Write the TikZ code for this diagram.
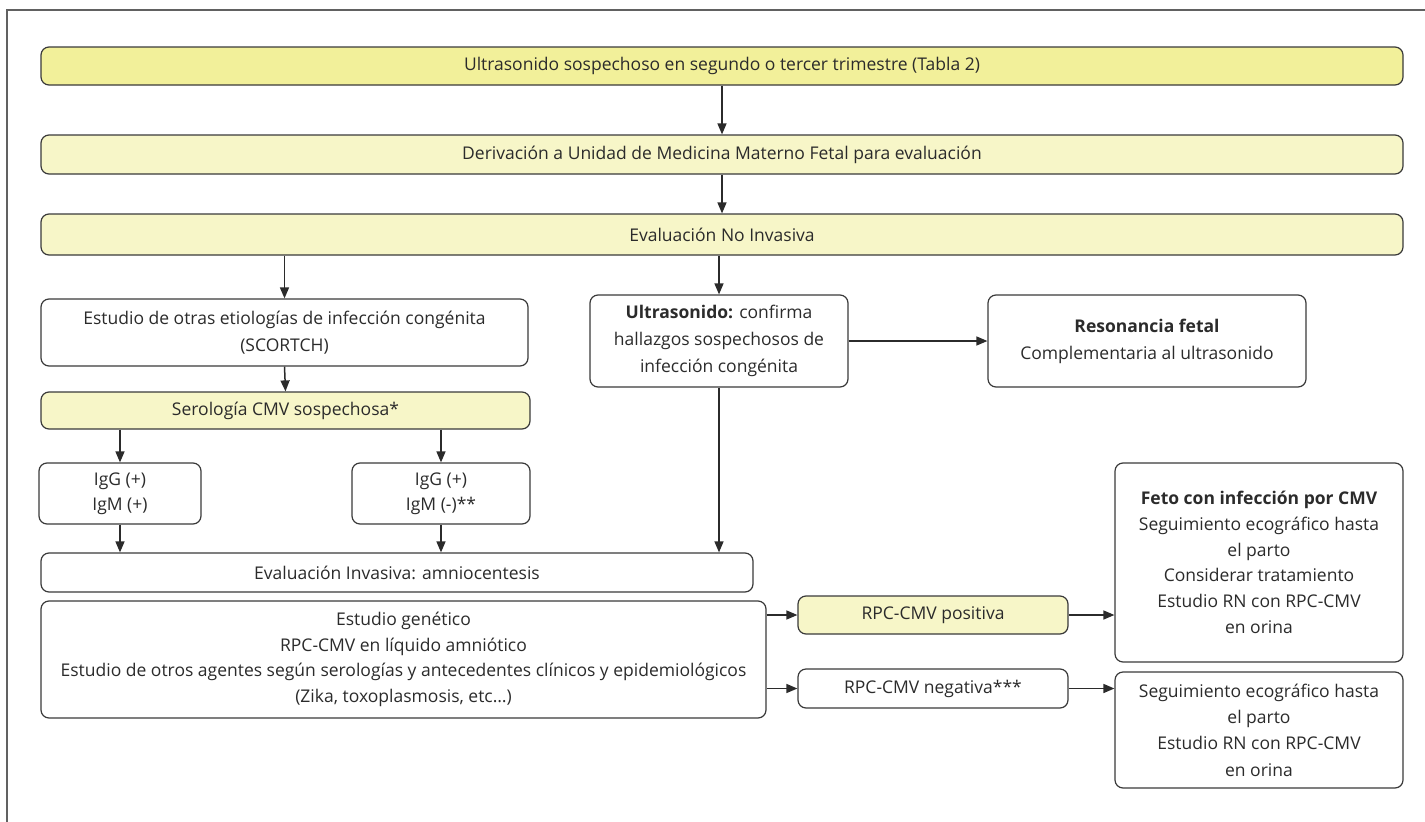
\documentclass[tikz,border=0pt]{standalone}
\usepackage{fontspec}
\setmainfont{Open Sans}
\usetikzlibrary{arrows.meta}
\definecolor{ystrong}{HTML}{F2F09A}
\definecolor{ylight}{HTML}{F7F6C8}
\definecolor{edge}{HTML}{3A3A3A}
\definecolor{ink}{HTML}{2B2B2B}
\begin{document}
\begin{tikzpicture}[x=1pt,y=-1pt,
  box/.style={draw=edge, line width=1.2pt, rounded corners=8pt, fill=white,
    align=center, inner sep=0pt, text=ink,
    font=\fontsize{17.5}{26.3}\selectfont},
  arr/.style={draw=ink, line width=1.5pt, -{Triangle[length=11pt,width=9pt]}}]
\useasboundingbox (0,0) rectangle (1425,822);
\draw[line width=1.2pt, draw=edge!80] (7,822) -- (7,10) -- (1425,10);

\node[box, fill=ystrong, minimum width=1362pt, minimum height=38pt] (b1) at (722,66)
  {Ultrasonido sospechoso en segundo o tercer trimestre (Tabla 2)};
\node[box, fill=ylight, minimum width=1362pt, minimum height=39pt] (b2) at (722,154.5)
  {Derivación a Unidad de Medicina Materno Fetal para evaluación};
\node[box, fill=ylight, minimum width=1362pt, minimum height=41pt] (b3) at (722,234.5)
  {Evaluación No Invasiva};

\node[box, minimum width=487pt, minimum height=67pt, font=\fontsize{17.5}{27.5}\selectfont] (est) at (284.5,332.5)
  {Estudio de otras etiologías de infección congénita\\(SCORTCH)};
\node[box, minimum width=258pt, minimum height=92pt, font=\fontsize{17.5}{27}\selectfont] (ult) at (719,341)
  {\textbf{Ultrasonido:} confirma\\hallazgos sospechosos de\\infección congénita};
\node[box, minimum width=318pt, minimum height=92pt, font=\fontsize{17.5}{27}\selectfont] (res) at (1147,341)
  {\textbf{Resonancia fetal}\\Complementaria al ultrasonido};

\node[box, fill=ylight, minimum width=489pt, minimum height=37pt] (ser) at (285.5,410.5)
  {Serología CMV sospechosa*};
\node[box, minimum width=162pt, minimum height=61pt, font=\fontsize{17.5}{25}\selectfont] (igA) at (120,493.5)
  {IgG (+)\\IgM (+)};
\node[box, minimum width=178pt, minimum height=61pt, font=\fontsize{17.5}{25}\selectfont] (igB) at (441,493.5)
  {IgG (+)\\IgM (-)**};

\node[box, minimum width=712pt, minimum height=39pt] (inv) at (397,572.5)
  {Evaluación Invasiva: amniocentesis};
\node[box, minimum width=725pt, minimum height=117pt, font=\fontsize{17.5}{25.5}\selectfont] (big) at (403.5,659.5)
  {Estudio genético\\RPC-CMV en líquido amniótico\\Estudio de otros agentes según serologías y antecedentes clínicos y epidemiológicos\\(Zika, toxoplasmosis, etc…)};

\node[box, fill=ylight, minimum width=270pt, minimum height=38pt] (pos) at (933,615)
  {RPC-CMV positiva};
\node[box, minimum width=270pt, minimum height=39pt] (neg) at (933,688.5)
  {RPC-CMV negativa***};

\node[box, minimum width=288pt, minimum height=199pt, font=\fontsize{17.5}{25.7}\selectfont] (feto) at (1259,562.5)
  {\textbf{Feto con infección por CMV}\\Seguimiento ecográfico hasta\\el parto\\Considerar tratamiento\\Estudio RN con RPC-CMV\\en orina};
\node[box, minimum width=288pt, minimum height=116pt] (seg) at (1259,730)
  {Seguimiento ecográfico hasta\\el parto\\Estudio RN con RPC-CMV\\en orina};

\draw[arr] (b1.south) -- (b2.north);
\draw[arr] (b2.south) -- (b3.north);
\draw[arr] (est.north |- b3.south) -- (est.north);
\draw[arr] (ult.north |- b3.south) -- (ult.north);
\draw[arr] (ult.east) -- (res.west);
\draw[arr] (est.south) -- (ser.north);
\draw[arr] (igA.north |- ser.south) -- (igA.north);
\draw[arr] (igB.north |- ser.south) -- (igB.north);
\draw[arr] (igA.south) -- (igA.south |- inv.north);
\draw[arr] (igB.south) -- (igB.south |- inv.north);
\draw[arr] (ult.south) -- (ult.south |- inv.north);
\draw[arr] (big.east |- pos.west) -- (pos.west);
\draw[arr] (big.east |- neg.west) -- (neg.west);
\draw[arr] (pos.east) -- (feto.west |- pos.east);
\draw[arr] (neg.east) -- (seg.west |- neg.east);
\end{tikzpicture}
\end{document}
